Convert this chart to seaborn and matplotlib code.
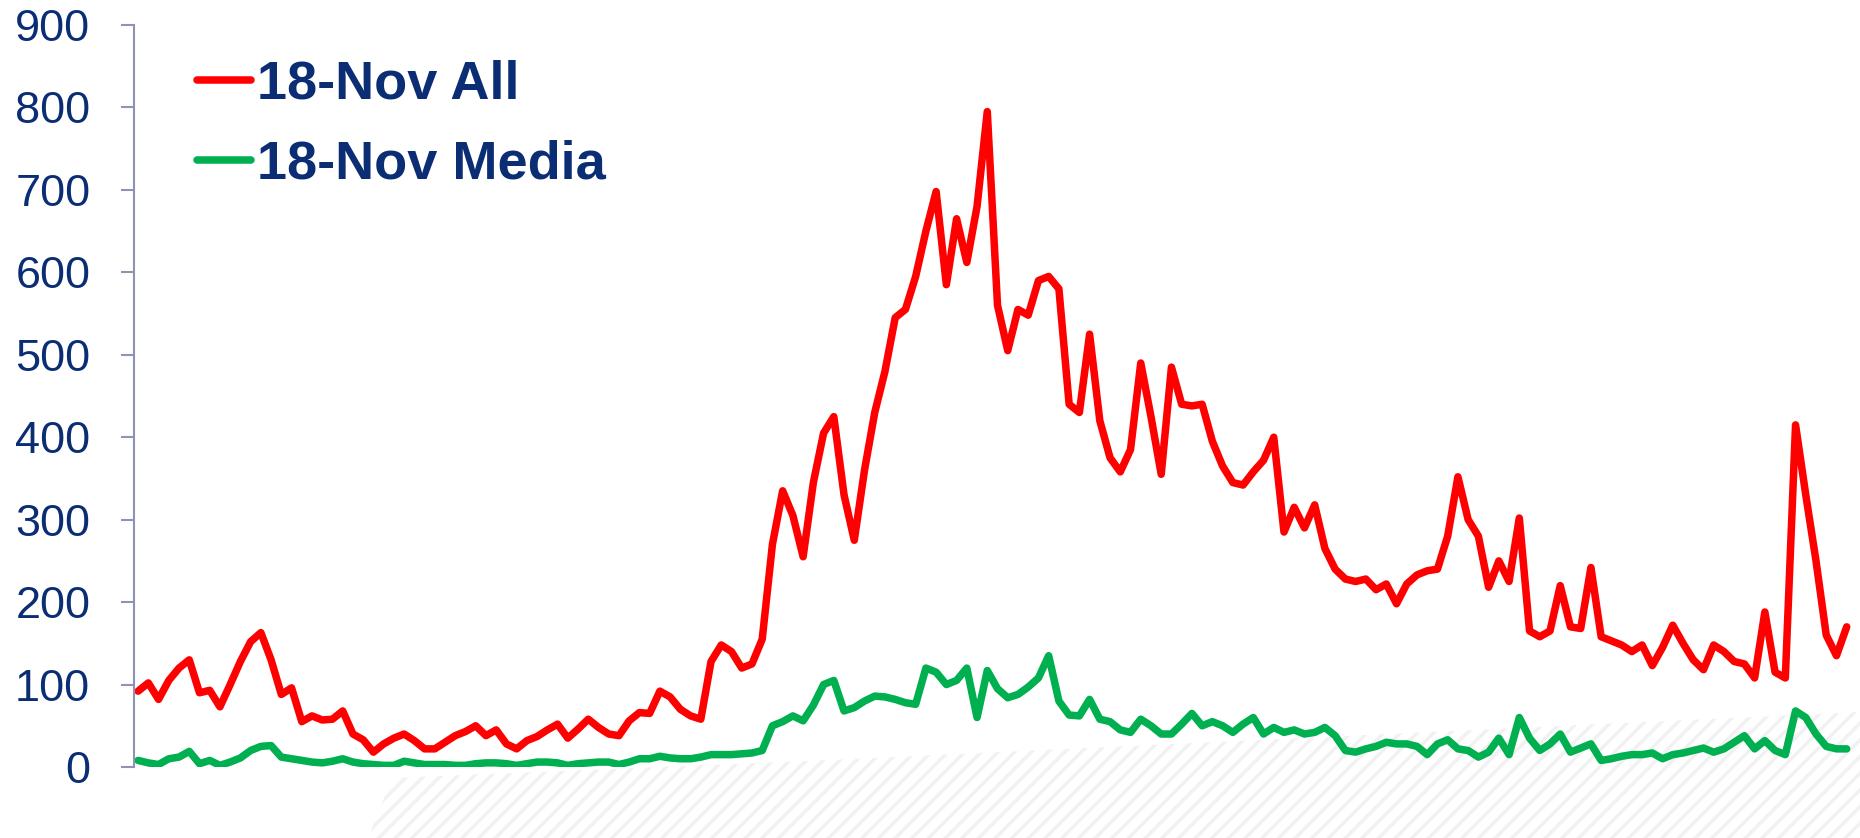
import matplotlib
matplotlib.use("Agg")
import matplotlib.pyplot as plt
from matplotlib.patches import Polygon
import numpy as np
import pandas as pd
import seaborn as sns

# ---------------- data ----------------
series_names = ["18-Nov All", "18-Nov Media"]
hours = list(range(168))

all_values = [
    92, 102, 82, 105, 120, 130, 90, 93, 73, 100,
    128, 152, 163, 130, 88, 96, 55, 62, 57, 58,
    68, 40, 33, 18, 28, 35, 40, 32, 22, 22,
    30, 38, 43, 50, 38, 45, 28, 22, 32, 37,
    45, 52, 35, 46, 58, 48, 40, 38, 56, 66,
    65, 92, 85, 70, 62, 58, 128, 148, 140, 120,
    125, 155, 270, 335, 305, 255, 345, 405, 425, 330,
    275, 360, 430, 480, 545, 555, 595, 650, 698, 585,
    665, 612, 680, 795, 560, 505, 555, 548, 590, 595,
    580, 440, 430, 525, 420, 375, 358, 385, 490, 425,
    355, 485, 440, 438, 440, 395, 365, 345, 342, 358,
    372, 400, 285, 315, 290, 318, 265, 240, 228, 225,
    228, 215, 222, 198, 222, 233, 238, 240, 280, 352,
    300, 280, 218, 250, 225, 302, 165, 158, 165, 220,
    170, 168, 242, 158, 153, 148, 140, 148, 123, 145,
    172, 150, 130, 118, 148, 140, 128, 125, 108, 188,
    115, 108, 415, 330, 250, 160, 135, 170,
]

media_values = [
    8, 5, 3, 10, 12, 19, 4, 8, 2, 6,
    11, 20, 25, 26, 12, 10, 8, 6, 5, 7,
    10, 6, 4, 3, 2, 2, 7, 5, 3, 3,
    3, 2, 2, 4, 5, 5, 4, 2, 4, 6,
    6, 5, 2, 4, 5, 6, 6, 3, 6, 10,
    10, 13, 11, 10, 10, 12, 15, 15, 15, 16,
    17, 20, 50, 55, 62, 56, 75, 100, 105, 68,
    72, 80, 86, 85, 82, 78, 76, 120, 115, 100,
    105, 120, 60, 117, 95, 84, 88, 97, 108, 135,
    80, 63, 62, 82, 58, 55, 45, 42, 58, 50,
    40, 40, 52, 65, 50, 55, 50, 42, 52, 60,
    40, 48, 42, 45, 40, 42, 48, 38, 20, 18,
    22, 25, 30, 28, 28, 25, 15, 28, 33, 22,
    20, 12, 18, 35, 15, 60, 35, 20, 28, 40,
    18, 23, 28, 8, 10, 13, 15, 15, 17, 10,
    15, 17, 20, 23, 18, 22, 30, 38, 22, 32,
    20, 15, 68, 60, 40, 25, 22, 22,
]

y_ticks = [0, 100, 200, 300, 400, 500, 600, 700, 800, 900]
line_colors = ["#ff0000", "#00b050"]

# ---------------- style ----------------
sns.set_theme(style="white")
plt.rcParams["font.family"] = ["Liberation Sans", "DejaVu Sans"]
plt.rcParams["hatch.linewidth"] = 2.5

navy = "#0a2d74"
axis_col = "#8f93b3"

df = pd.DataFrame({
    "hour": hours + hours,
    "value": all_values + media_values,
    "series": [series_names[0]] * len(hours) + [series_names[1]] * len(hours),
})

W, H = 1860, 838
fig = plt.figure(figsize=(W / 100, H / 100), dpi=100)
fig.patch.set_facecolor("white")

# faint decorative hatch in the lower right background
bg = Polygon(
    [(368 / W, 0.0), (392 / W, 1 - 778 / H), (830 / W, 1 - 760 / H),
     (1.0, 1 - 712 / H), (1.0, 0.0)],
    closed=True, transform=fig.transFigure, facecolor="none",
    edgecolor="#f1f1f1", hatch="//", linewidth=0, zorder=0,
)
fig.patches.append(bg)

ax = fig.add_axes([134 / W, 1 - 767 / H, 1 - 134 / W, (767 - 25) / H])
ax.set_facecolor("none")
ax.set_zorder(2)

sns.lineplot(
    data=df, x="hour", y="value", hue="series",
    hue_order=series_names, palette=line_colors,
    linewidth=5.4, ax=ax, legend=True,
)
for ln in ax.lines:
    ln.set_solid_joinstyle("round")
    ln.set_solid_capstyle("round")

ax.set_xlim(-0.4, 168.3)
ax.set_ylim(0, 900)
ax.set_yticks(y_ticks)
ax.set_yticklabels([str(t) for t in y_ticks])
ax.set_xticks([])
ax.set_xlabel("")
ax.set_ylabel("")

for s in ["top", "right", "bottom"]:
    ax.spines[s].set_visible(False)
ax.spines["left"].set_color(axis_col)
ax.spines["left"].set_linewidth(1.5)

ax.tick_params(axis="y", left=True, direction="out", length=9.5, width=1.5,
               color=axis_col, labelsize=32.5, labelcolor=navy, pad=22)

handles, labels = ax.get_legend_handles_labels()
leg = ax.legend(
    handles, labels, loc="upper left",
    bbox_to_anchor=(197 / W, 1 - 60 / H), bbox_transform=fig.transFigure,
    frameon=False, handlelength=1.0, handletextpad=0.1,
    labelspacing=0.55, borderaxespad=0, borderpad=0,
    prop={"weight": "bold", "size": 39},
)
for t in leg.get_texts():
    t.set_color(navy)
for lh in leg.get_lines():
    lh.set_linewidth(5.4)
    lh.set_solid_capstyle("round")

fig.savefig("out.png", dpi=100, facecolor="white")
